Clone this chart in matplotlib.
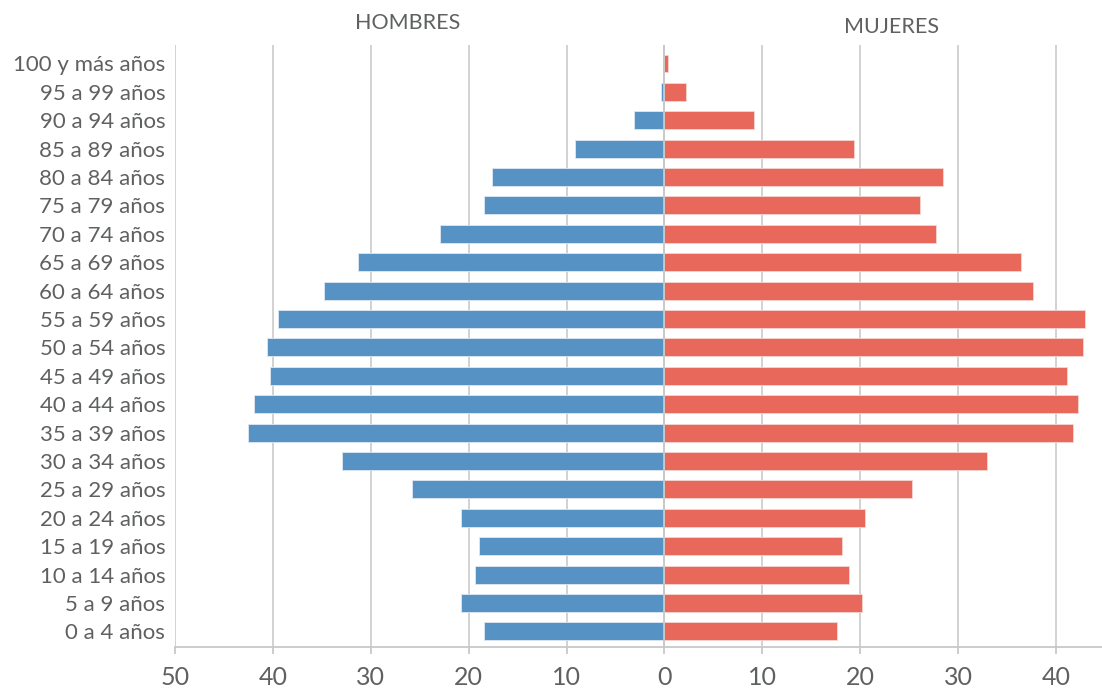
import numpy as np
import matplotlib.pyplot as plt

# grupos de edad, de abajo hacia arriba
grupos = ["0 a 4 años", "5 a 9 años", "10 a 14 años", "15 a 19 años",
          "20 a 24 años", "25 a 29 años", "30 a 34 años", "35 a 39 años",
          "40 a 44 años", "45 a 49 años", "50 a 54 años", "55 a 59 años",
          "60 a 64 años", "65 a 69 años", "70 a 74 años", "75 a 79 años",
          "80 a 84 años", "85 a 89 años", "90 a 94 años", "95 a 99 años",
          "100 y más años"]
hombres = [18.4, 20.8, 19.4, 18.9, 20.8, 25.8, 32.9, 42.5, 41.9, 40.3,
           40.6, 39.5, 34.8, 31.3, 22.9, 18.4, 17.6, 9.1, 3.1, 0.4, 0.0]
mujeres = [17.6, 20.2, 18.9, 18.1, 20.5, 25.3, 33.0, 41.7, 42.2, 41.1,
           42.8, 43.0, 37.7, 36.4, 27.7, 26.1, 28.5, 19.4, 9.1, 2.2, 0.4]
ticks_x = [-50, -40, -30, -20, -10, 0, 10, 20, 30, 40]

azul = "#5792c4"
rojo = "#e8685b"
gris = "#5f6060"

plt.rcParams['font.family'] = ['Lato', 'DejaVu Sans']

fig = plt.figure(figsize=(11.02, 6.93), dpi=100)
ax = fig.add_axes([175/1102, 1 - 647/693, 1 - 175/1102, (647 - 45)/693])

y = np.arange(len(grupos))
ax.barh(y, -np.array(hombres), height=0.63, color=azul, edgecolor="#dfe8f2",
        linewidth=0.6, zorder=2)
ax.barh(y, mujeres, height=0.63, color=rojo, edgecolor="#f6d6d2",
        linewidth=0.6, zorder=2)
ax.axvline(0, color="#c8c8c8", linewidth=1.3, zorder=3)

ax.set_xlim(-50, 44.7)
ax.set_ylim(-0.55, 20.65)
ax.set_xticks(ticks_x)
ax.set_xticklabels([str(abs(t)) for t in ticks_x])
ax.set_yticks(y)
ax.set_yticklabels(grupos)

ax.grid(axis='x', color="#cfcfcf", linewidth=1.3, zorder=0)
ax.set_axisbelow(True)
for s in ['top', 'right', 'left']:
    ax.spines[s].set_visible(False)
ax.spines['bottom'].set_color("#c8c8c8")
ax.spines['bottom'].set_linewidth(1.3)

ax.tick_params(axis='x', colors="#c8c8c8", labelcolor=gris, labelsize=18,
               length=5, width=1.3, pad=9)
ax.tick_params(axis='y', length=0, labelcolor=gris, labelsize=16, pad=7)

fig.text(408/1102, 1 - 23/693, "HOMBRES", ha='center', va='center',
         fontsize=15.5, color=gris)
fig.text(892/1102, 1 - 27/693, "MUJERES", ha='center', va='center',
         fontsize=15.5, color=gris)

fig.savefig("out.png", dpi=100)
